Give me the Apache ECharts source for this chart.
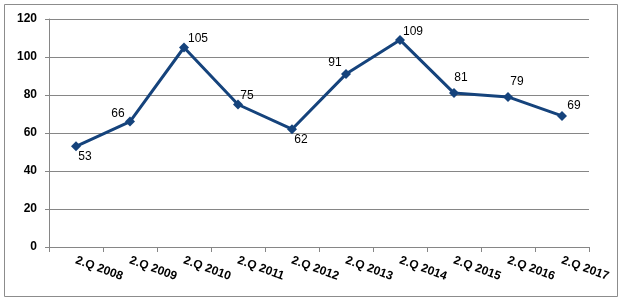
<!DOCTYPE html>
<html>
<head>
<meta charset="utf-8">
<script src="https://cdn.jsdelivr.net/npm/echarts@6/dist/echarts.min.js"></script>
<style>
html,body{margin:0;padding:0;background:#fff;}
#chart{width:622px;height:303px;}
</style>
</head>
<body>
<div id="chart"></div>
<script>
const categories = ['2.Q 2008','2.Q 2009','2.Q 2010','2.Q 2011','2.Q 2012','2.Q 2013','2.Q 2014','2.Q 2015','2.Q 2016','2.Q 2017'];
const values = [53, 66, 105, 75, 62, 91, 109, 81, 79, 69];
const yTicks = [0, 20, 40, 60, 80, 100, 120];

// label placement offsets (style, not data)
const labelOffsets = [[9,10],[-12,-8],[14,-9],[9,-9],[9,10],[-11,-11],[13,-8],[7,-15],[9,-15],[12,-10]];

const chart = echarts.init(document.getElementById('chart'), null, {renderer:'canvas'});
const lineColor = '#15437C';
chart.setOption({
  animation: false,
  graphic: [{
    type: 'rect',
    shape: {x: 4.5, y: 4.5, width: 613, height: 292},
    style: {fill: 'none', stroke: '#8c8c8c', lineWidth: 1},
    silent: true
  }],
  grid: {left: 49, right: 33, top: 19, bottom: 56, containLabel: false},
  xAxis: {
    type: 'category',
    data: categories,
    boundaryGap: true,
    axisLine: {lineStyle: {color: '#868686', width: 1}},
    axisTick: {show: true, alignWithLabel: false, length: 5, lineStyle: {color: '#868686'}},
    axisLabel: {
      rotate: -20,
      interval: 0,
      margin: 13,
      color: '#000',
      fontFamily: 'Liberation Sans, Arial, sans-serif',
      fontWeight: 'bold',
      fontSize: 12
    },
    splitLine: {show: false}
  },
  yAxis: {
    type: 'value',
    min: yTicks[0],
    max: yTicks[yTicks.length - 1],
    interval: 20,
    axisLine: {show: true, lineStyle: {color: '#868686', width: 1}},
    axisTick: {show: true, length: 4, lineStyle: {color: '#868686'}},
    axisLabel: {
      margin: 12,
      color: '#000',
      fontFamily: 'Liberation Sans, Arial, sans-serif',
      fontWeight: 'bold',
      fontSize: 12
    },
    splitLine: {show: true, lineStyle: {color: '#868686', width: 1}}
  },
  series: [{
    type: 'line',
    data: values.map((v, i) => ({
      value: v,
      label: {position: 'inside', offset: labelOffsets[i]}
    })),
    symbol: 'diamond',
    symbolSize: 10,
    showAllSymbol: true,
    lineStyle: {color: lineColor, width: 3},
    itemStyle: {color: lineColor},
    label: {
      show: true,
      color: '#000',
      fontFamily: 'Liberation Sans, Arial, sans-serif',
      fontSize: 12
    }
  }]
});
</script>
</body>
</html>
